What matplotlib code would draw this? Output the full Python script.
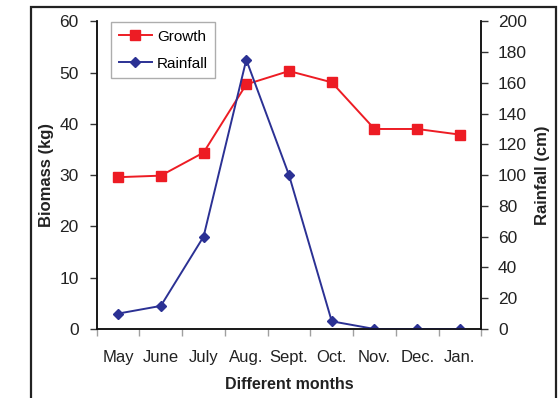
import matplotlib.pyplot as plt
from matplotlib.patches import Rectangle
import numpy as np

plt.rcParams['font.family'] = ['Liberation Sans', 'DejaVu Sans']

months = ['May', 'June', 'July', 'Aug.', 'Sept.', 'Oct.', 'Nov.', 'Dec.', 'Jan.']
growth = [29.6, 29.9, 34.4, 47.7, 50.3, 48.1, 39.0, 39.0, 37.9]
rainfall = [10, 15, 60, 175, 100, 5, 0, 0, 0]

red = '#ED1C24'
blue = '#2B3194'
txt = '#222222'

fig = plt.figure(figsize=(5.6, 3.98), dpi=100)
ax = fig.add_axes([0.1727, 0.1734, 0.6868, 0.7731])
ax2 = ax.twinx()

x = np.arange(len(months))
l1, = ax.plot(x, growth, color=red, marker='s', markersize=7, linewidth=1.4,
              label='Growth')
l2, = ax2.plot(x, rainfall, color=blue, marker='D', markersize=4.6, linewidth=1.4,
               label='Rainfall')

ax.set_xlim(-0.5, len(months) - 0.5)
ax.set_ylim(0, 60)
ax2.set_ylim(0, 200)
ax.set_yticks(range(0, 61, 10))
ax2.set_yticks(range(0, 201, 20))

# category boundaries get tick marks, labels sit at the centres
ax.set_xticks(np.arange(-0.5, len(months), 1.0))
ax.set_xticklabels([])
ax.set_xticks(x, minor=True)
ax.set_xticklabels(months, minor=True)
ax.tick_params(axis='x', which='major', length=5, width=1, color='#a0a0a0')
ax.tick_params(axis='x', which='minor', length=0, pad=15, labelsize=12,
               labelcolor=txt)

ax.tick_params(axis='y', length=5, width=1, color='#333333', labelsize=12.5,
               labelcolor=txt, pad=8)
ax2.tick_params(axis='y', length=5, width=1, color='#333333', labelsize=12.5,
                labelcolor=txt, pad=7)

for a in (ax, ax2):
    a.spines['top'].set_visible(False)
    for s in ('left', 'right', 'bottom'):
        a.spines[s].set_linewidth(1.1)
        a.spines[s].set_color('#111111')

ax.set_xlabel('Different months', fontsize=11.5, fontweight='bold', labelpad=9,
              color=txt)
ax.set_ylabel('Biomass (kg)', fontsize=12, fontweight='bold', labelpad=3.5,
              color=txt)
ax2.set_ylabel('Rainfall (cm)', fontsize=12, fontweight='bold', labelpad=6,
               color=txt)

leg = ax2.legend(handles=[l1, l2], loc='upper left',
                 bbox_to_anchor=(0.037, 0.998), fontsize=11,
                 frameon=True, fancybox=False, handlelength=2.2,
                 handletextpad=0.3, borderpad=0.5, labelspacing=0.85,
                 borderaxespad=0)
leg.get_frame().set_edgecolor('#999999')
leg.get_frame().set_linewidth(1.0)

# frame around the whole chart
fig.patches.append(Rectangle((31 / 560, -0.05), (556 - 31) / 560, 1 - 7.3 / 398 + 0.05,
                             transform=fig.transFigure, fill=False,
                             edgecolor='#222222', linewidth=1.6))

fig.savefig('out.png', dpi=100)
